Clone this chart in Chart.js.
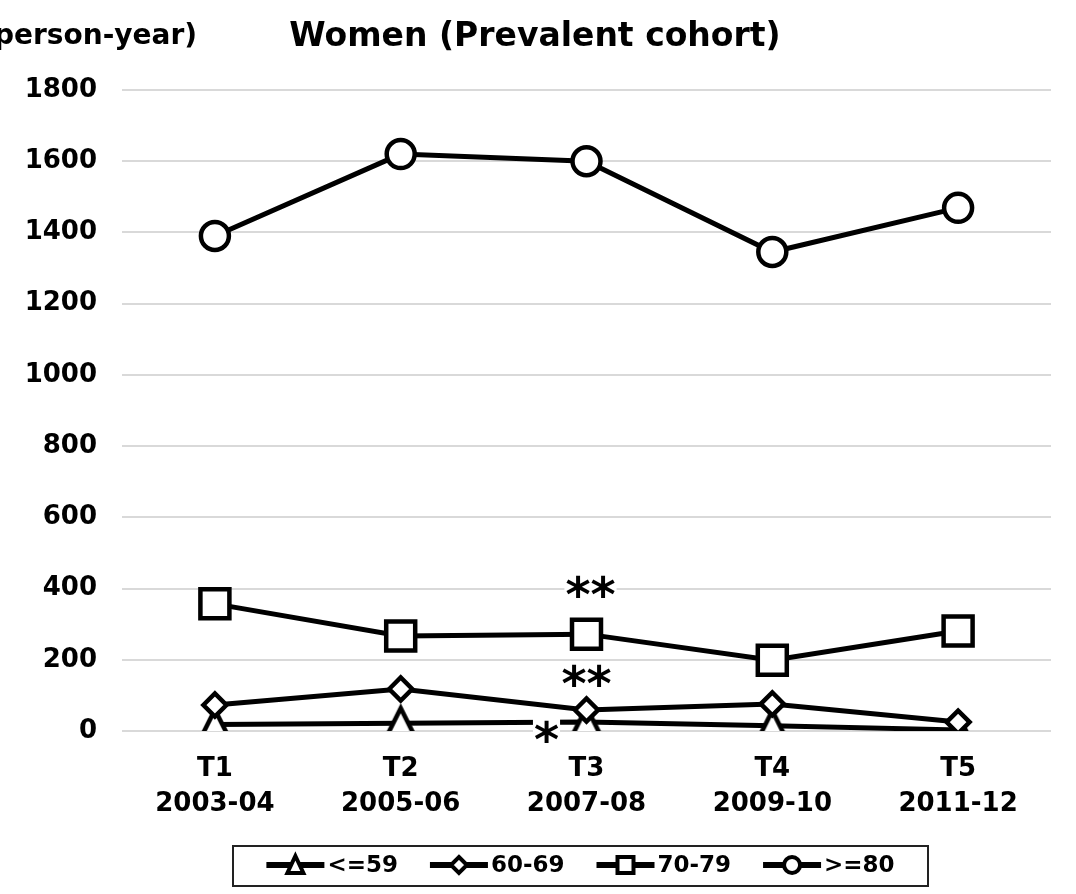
<!DOCTYPE html>
<html><head><meta charset="utf-8">
<script src="https://cdn.jsdelivr.net/npm/chart.js@4.4.0/dist/chart.umd.min.js"></script>
<style>html,body{margin:0;padding:0;background:#fff;}#wrap{width:1076px;height:894px;position:relative;}</style>
</head><body><div id="wrap"><canvas id="c" width="1076" height="894"></canvas></div>
<script>
// ---- data ----
const periods = ['T1', 'T2', 'T3', 'T4', 'T5'];
const years = ['2003-04', '2005-06', '2007-08', '2009-10', '2011-12'];
const ageGroups = ['<=59', '60-69', '70-79', '>=80'];
const rateUpTo59 = [18, 22, 25, 15, 3];
const rate60to69 = [73, 118, 59, 76, 25];
const rate70to79 = [357, 267, 272, 199, 281];
const rate80plus = [1390, 1620, 1600, 1345, 1469];
const yTickValues = [0, 200, 400, 600, 800, 1000, 1200, 1400, 1600, 1800];
const titleText = 'Women (Prevalent cohort)';
const unitText = '(person-year)';
const noteTexts = ['**', '**', '*'];
const notePeriods = ['T3', 'T3', 'T3'];
const noteValues = [405, 155, 0];

// ---- styles ----
const FONT = '"DejaVu Sans", Verdana, sans-serif';
const noteShiftX = [4, 0, -40];

function triangleImage(){
  const c = document.createElement('canvas');
  c.width = 38; c.height = 42;
  const g = c.getContext('2d');
  g.lineWidth = 4.5; g.lineJoin = 'miter';
  g.beginPath(); g.moveTo(19, 6); g.lineTo(34, 36); g.lineTo(4, 36); g.closePath();
  g.fillStyle = '#fff'; g.fill(); g.strokeStyle = '#000'; g.stroke();
  return c;
}

const seriesValues = [rateUpTo59, rate60to69, rate70to79, rate80plus];
const pointStyles = [triangleImage(), 'rectRot', 'rect', 'circle'];
const pointRadii = [15, 11.5, 20.5, 14];

const datasets = ageGroups.map((g, i) => ({
  label: g,
  data: seriesValues[i],
  borderColor: '#000',
  backgroundColor: '#fff',
  borderWidth: 5,
  pointStyle: pointStyles[i],
  pointRadius: pointRadii[i],
  pointHoverRadius: pointRadii[i],
  pointBorderWidth: 4.5,
  pointBorderColor: '#000',
  pointBackgroundColor: '#fff',
  tension: 0,
  order: ageGroups.length - i
}));

const overlay = {
  id: 'overlay',
  afterDatasetsDraw(chart){
    const ctx = chart.ctx, x = chart.scales.x, y = chart.scales.y;
    ctx.save();
    ctx.font = 'bold 48px ' + FONT;
    noteTexts.forEach((t, i) => {
      const cx = x.getPixelForValue(periods.indexOf(notePeriods[i])) + noteShiftX[i];
      const cy = y.getPixelForValue(noteValues[i]);
      const m = ctx.measureText(t);
      const w = m.width;
      const asc = m.actualBoundingBoxAscent, desc = m.actualBoundingBoxDescent;
      const base = cy + (asc - desc) / 2;
      ctx.fillStyle = '#fff';
      ctx.fillRect(cx - w / 2 - 1, base - asc - 3, w + 2, asc + desc + 6);
      ctx.fillStyle = '#000';
      ctx.textAlign = 'center';
      ctx.textBaseline = 'alphabetic';
      ctx.fillText(t, cx, base);
    });
    ctx.restore();
  },
  afterDraw(chart){
    const ctx = chart.ctx;
    ctx.save();
    ctx.fillStyle = '#000';
    ctx.textBaseline = 'alphabetic';
    ctx.font = 'bold 33px ' + FONT;
    ctx.textAlign = 'center';
    ctx.fillText(titleText, 535, 46);
    ctx.font = 'bold 28px ' + FONT;
    ctx.textAlign = 'right';
    ctx.fillText(unitText, 197, 44);

    // legend
    const boxL = 233, boxR = 928, boxT = 846, boxB = 886;
    ctx.lineWidth = 2; ctx.strokeStyle = '#222';
    ctx.strokeRect(boxL, boxT, boxR - boxL, boxB - boxT);
    ctx.font = 'bold 23px ' + FONT;
    const lineLen = 58, gapText = 3, gapItem = 32;
    const widths = ageGroups.map(g => lineLen + gapText + ctx.measureText(g).width);
    const total = widths.reduce((a, b) => a + b, 0) + gapItem * (ageGroups.length - 1);
    let xx = (boxL + boxR) / 2 - total / 2;
    const cy = (boxT + boxB) / 2 - 1;
    ageGroups.forEach((g, i) => {
      ctx.strokeStyle = '#000'; ctx.lineWidth = 6; ctx.lineCap = 'butt';
      ctx.beginPath(); ctx.moveTo(xx, cy); ctx.lineTo(xx + lineLen, cy); ctx.stroke();
      const mx = xx + lineLen / 2;
      ctx.lineWidth = 4; ctx.fillStyle = '#fff';
      ctx.beginPath();
      if (i === 0) { ctx.moveTo(mx, cy - 9); ctx.lineTo(mx + 8, cy + 8); ctx.lineTo(mx - 8, cy + 8); ctx.closePath(); }
      else if (i === 1) { ctx.moveTo(mx, cy - 8); ctx.lineTo(mx + 8, cy); ctx.lineTo(mx, cy + 8); ctx.lineTo(mx - 8, cy); ctx.closePath(); }
      else if (i === 2) { ctx.rect(mx - 8, cy - 8, 16, 16); }
      else { ctx.arc(mx, cy, 8, 0, Math.PI * 2); }
      ctx.fill(); ctx.stroke();
      ctx.fillStyle = '#000'; ctx.textAlign = 'left'; ctx.textBaseline = 'middle';
      ctx.fillText(g, xx + lineLen + gapText, cy + 1);
      xx += widths[i] + gapItem;
    });
    ctx.restore();
  }
};

new Chart(document.getElementById('c'), {
  type: 'line',
  data: { labels: periods.map((p, i) => [p, years[i]]), datasets },
  options: {
    responsive: false,
    animation: false,
    events: [],
    layout: { padding: { top: 90, right: 14, bottom: 0, left: 0 } },
    plugins: { legend: { display: false }, tooltip: { enabled: false }, title: { display: false } },
    scales: {
      x: {
        offset: true,
        grid: { display: false, drawTicks: false },
        border: { display: false },
        ticks: { color: '#000', font: { family: FONT, size: 26, weight: 'bold', lineHeight: 1.35 }, padding: 21, maxRotation: 0, autoSkip: false },
        afterFit(s){ s.height = 163; s.paddingLeft = 0; s.paddingRight = 0; }
      },
      y: {
        min: 0, max: 1800,
        afterBuildTicks(s){ s.ticks = yTickValues.map(v => ({ value: v })); },
        grid: { color: '#d9d9d9', lineWidth: 2, drawTicks: false },
        border: { display: false },
        ticks: { color: '#000', font: { family: FONT, size: 26, weight: 'bold' }, padding: 25, callback: v => String(v) },
        afterFit(s){ s.width = 122; s.paddingTop = 0; s.paddingBottom = 0; }
      }
    }
  },
  plugins: [overlay]
});
</script></body></html>
